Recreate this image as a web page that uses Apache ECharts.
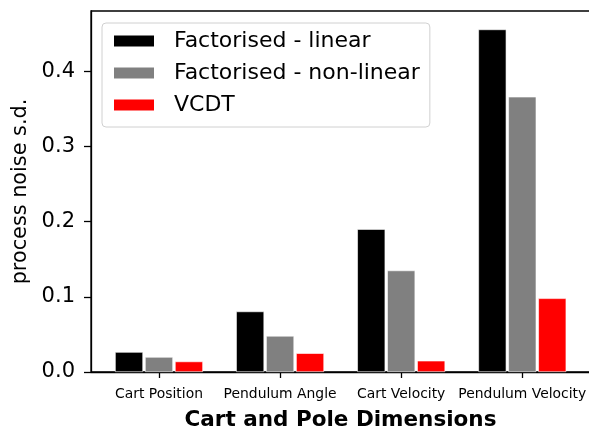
<!DOCTYPE html>
<html>
<head>
<meta charset="utf-8">
<script src="https://cdn.jsdelivr.net/npm/echarts@6/dist/echarts.min.js"></script>
<style>html,body{margin:0;padding:0;background:#fff}#c{width:589px;height:431px}</style>
</head>
<body>
<div id="c"></div>
<script>
const categories = ['Cart Position', 'Pendulum Angle', 'Cart Velocity', 'Pendulum Velocity'];
const seriesNames = ['Factorised - linear', 'Factorised - non-linear', 'VCDT'];
const linearVals = [0.0266, 0.0805, 0.190, 0.4555];
const nonlinearVals = [0.020, 0.048, 0.135, 0.366];
const vcdtVals = [0.014, 0.025, 0.015, 0.098];
const yTicks = [0, 0.1, 0.2, 0.3, 0.4];
const colors = ['#000000', '#808080', '#ff0000'];

const chart = echarts.init(document.getElementById('c'), null, {renderer: 'canvas'});
const FONT = 'DejaVu Sans';
const valueSets = [linearVals, nonlinearVals, vcdtVals];
const series = valueSets.map((vals, si) => ({
  name: seriesNames[si],
  type: 'bar',
  data: vals.map((v, i) => [i, v]),
  barWidth: 28,
  barGap: '7%',
  itemStyle: {color: colors[si], borderColor: '#ffffff', borderWidth: 0.6},
  emphasis: {disabled: true}
}));

chart.setOption({
  animation: false,
  textStyle: {fontFamily: FONT},
  grid: {left: 91, top: 11, right: -1, bottom: 59, outerBoundsMode: 'none', containLabel: false,
    show: true, borderColor: '#000', borderWidth: 1.3, backgroundColor: 'transparent'},
  legend: {
    left: 102, top: 23, orient: 'vertical',
    icon: 'rect', itemWidth: 42, itemHeight: 13, itemGap: 10,
    padding: [7, 10, 11, 10],
    backgroundColor: 'rgba(255,255,255,0.85)', borderColor: '#d0d0d0', borderWidth: 1, borderRadius: 4,
    textStyle: {fontFamily: FONT, fontSize: 22, color: '#000', lineHeight: 22, padding: [0, 0, 0, 14]},
    data: seriesNames
  },
  xAxis: {
    type: 'value', min: -0.5615, max: 3.559,
    name: 'Cart and Pole Dimensions', nameLocation: 'middle', nameGap: 37,
    nameTextStyle: {fontFamily: FONT, fontSize: 21.5, fontWeight: 'bold', color: '#000'},
    splitLine: {show: false},
    axisLine: {show: true, onZero: false, lineStyle: {color: '#000', width: 1.3}},
    axisTick: {show: true, length: 6, customValues: [0, 1, 2, 3], lineStyle: {color: '#000', width: 1.3}},
    axisLabel: {customValues: [0, 1, 2, 3], margin: 15, fontFamily: FONT, fontSize: 13.9, color: '#000',
      formatter: v => categories[Math.round(v)] || ''}
  },
  yAxis: {
    type: 'value', min: 0, max: 0.48,
    name: 'process noise s.d.', nameLocation: 'middle', nameGap: 60,
    nameTextStyle: {fontFamily: FONT, fontSize: 20.8, color: '#000'},
    splitLine: {show: false},
    axisLine: {show: true, onZero: false, lineStyle: {color: '#000', width: 1.3}},
    axisTick: {show: true, length: 7, customValues: yTicks, lineStyle: {color: '#000', width: 1.3}},
    axisLabel: {customValues: yTicks, margin: 16, fontFamily: FONT, fontSize: 21, color: '#000',
      formatter: v => v.toFixed(1)}
  },
  series: series
});
</script>
</body>
</html>
